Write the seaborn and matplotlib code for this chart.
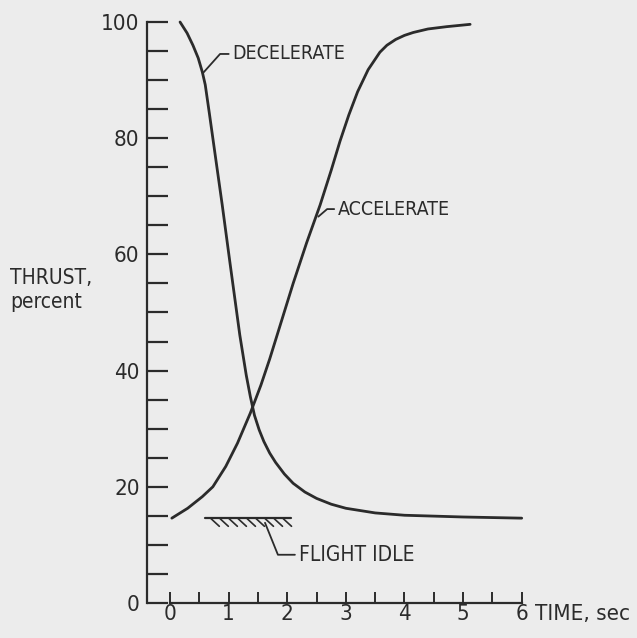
import numpy as np
import pandas as pd
import seaborn as sns
import matplotlib.pyplot as plt

"""Thrust response read off the figure (time in sec, thrust in percent)."""
decel_time = [0.17, 0.29, 0.39, 0.48, 0.55, 0.60, 0.67, 0.77, 0.89, 1.02, 1.19, 1.30,
              1.37, 1.44, 1.52, 1.60, 1.70, 1.80, 1.95, 2.10, 2.30, 2.50, 2.75, 3.00,
              3.50, 4.00, 5.00, 6.00]
decel_thrust = [100, 98.1, 96.0, 93.8, 91.4, 89.2, 84.3, 77.1, 68.5, 58.7, 46.1, 39.2,
                35.5, 32.3, 29.8, 27.8, 25.8, 24.2, 22.2, 20.6, 19.1, 18, 17, 16.3,
                15.5, 15.1, 14.8, 14.6]

accel_time = [0.03, 0.30, 0.55, 0.73, 0.95, 1.15, 1.37, 1.55, 1.70, 1.90, 2.10,
              2.33, 2.56, 2.75, 2.90, 3.05, 3.20, 3.38, 3.58, 3.70, 3.85, 4.00,
              4.15, 4.40, 4.72, 5.12]
accel_thrust = [14.6, 16.3, 18.3, 20, 23.5, 27.5, 32.7, 37.5, 42, 48.5, 55,
                62, 68.5, 74.5, 79.5, 84, 88, 91.8, 94.8, 96.0, 97.0, 97.7,
                98.2, 98.8, 99.2, 99.6]

flight_idle = 14.6
idle_span = [0.6, 2.07]

x_ticks = np.arange(0, 6.01, 0.5)
x_labels = ["0", "", "1", "", "2", "", "3", "", "4", "", "5", "", "6"]
y_ticks = np.arange(0, 101, 5)
y_labels = [str(v) if v % 20 == 0 else "" for v in y_ticks]

df = pd.concat([
    pd.DataFrame({"time": decel_time, "thrust": decel_thrust, "mode": "DECELERATE"}),
    pd.DataFrame({"time": accel_time, "thrust": accel_thrust, "mode": "ACCELERATE"}),
])

sns.set_style("ticks")
plt.rcParams["font.family"] = ["DejaVu Sans"]
plt.rcParams["font.stretch"] = "condensed"

ink = "#2b2b2b"
paper = "#ececec"

fig = plt.figure(figsize=(6.37, 6.38), dpi=100, facecolor=paper)
ax = fig.add_axes([0.2302, 0.0549, 0.6072, 0.9197], facecolor=paper)

sns.lineplot(data=df, x="time", y="thrust", units="mode", estimator=None,
             color=ink, lw=2.0, ax=ax, legend=False, sort=False)
for ln in ax.lines:
    ln.set_solid_joinstyle("round")
    ln.set_solid_capstyle("round")

ax.set_xlim(-0.4, 6.2)
ax.set_ylim(0, 101)
ax.set_xlabel("")
ax.set_ylabel("")

# spines only cover the data range, like the original drawing
sns.despine(ax=ax)
ax.spines["left"].set_bounds(0, 100)
ax.spines["bottom"].set_bounds(0, 6)
for s in ("left", "bottom"):
    ax.spines[s].set_linewidth(1.6)
    ax.spines[s].set_color(ink)

ax.set_xticks(x_ticks)
ax.set_xticklabels(x_labels)
ax.set_yticks(y_ticks)
ax.set_yticklabels(y_labels)
ax.tick_params(axis="y", direction="in", length=15, width=1.6, color=ink,
               pad=5, labelsize=16, labelcolor=ink)
ax.tick_params(axis="x", direction="in", length=8, width=1.4, color=ink,
               pad=1, labelsize=16, labelcolor=ink)

# flight idle line with hatching
ax.plot(idle_span, [flight_idle, flight_idle], color=ink, lw=1.6)
for x0 in np.arange(idle_span[0] + 0.1, idle_span[1] - 0.1, 0.154):
    ax.plot([x0, x0 + 0.14], [flight_idle - 0.1, flight_idle - 1.4], color=ink, lw=1.2)

# leader lines and labels
ax.plot([0.56, 0.853, 1.0], [91.2, 94.5, 94.5], color=ink, lw=1.3)
ax.text(1.06, 94.5, "DECELERATE", fontsize=14, color=ink, va="center")
ax.plot([2.53, 2.68, 2.80], [66.5, 67.8, 67.8], color=ink, lw=1.3)
ax.text(2.86, 67.8, "ACCELERATE", fontsize=14, color=ink, va="center")
ax.plot([1.62, 1.84, 2.13], [13.8, 8.3, 8.3], color=ink, lw=1.3)
ax.text(2.2, 8.3, "FLIGHT IDLE", fontsize=15, color=ink, va="center")

ax.text(6.22, -0.018, "TIME, sec", transform=ax.get_xaxis_transform(),
        fontsize=16, color=ink, va="center", ha="left")
fig.text(10 / 637, 1 - 290 / 638, "THRUST,\npercent", fontsize=15, color=ink,
         va="center", ha="left", linespacing=1.2)

plt.savefig("out.png", dpi=100, facecolor=paper)
